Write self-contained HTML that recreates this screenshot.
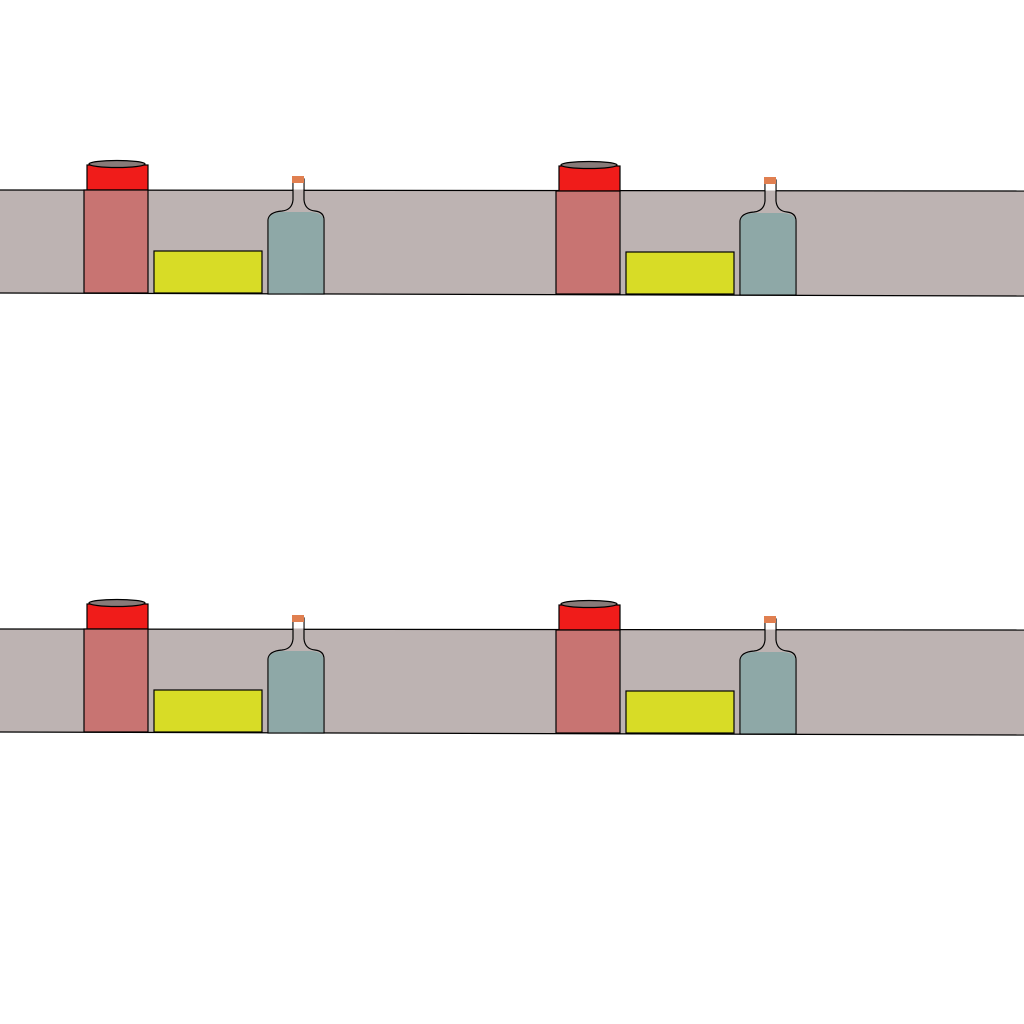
<!DOCTYPE html>
<html><head><meta charset="utf-8"><style>html,body{margin:0;padding:0;background:#fff}svg{display:block}</style></head>
<body>
<svg width="1024" height="1024" viewBox="0 0 1024 1024">
<defs>
<g id="tile">
  <rect x="87" y="165" width="61" height="25" fill="#f01c1a" stroke="#000" stroke-width="1.2"/>
  <polygon points="84,190 148,190 148,293 84,293" fill="#c87472" stroke="#000" stroke-width="1.2"/>
  <ellipse cx="117" cy="164" rx="28" ry="3.5" fill="#877a78" stroke="#000" stroke-width="1.2"/>
  <rect x="154" y="251" width="108" height="42" fill="#d8dc26" stroke="#000" stroke-width="1.2"/>
  <path d="M268,294 L268,220 Q269,212 282,211 Q292,210 293,200 L293,179 L304,179 L304,200 Q305,210 315,211 Q324,212 324,220 L324,294 Z" fill="#bdb3b2" stroke="#000" stroke-width="1.2"/>
  <path d="M268.6,293.4 L268.6,220 Q269,213 282,212 L311,212 Q323.4,213 323.4,220 L323.4,293.4 Z" fill="#8ea8a7"/>
  <rect x="293.5" y="179.5" width="10" height="10" fill="#fff"/>
  <rect x="292" y="176" width="12" height="7" fill="#e07f50"/>
</g>
</defs>
<g>
  <polygon points="0,190 1024,191 1024,296 0,293" fill="#bdb3b2"/>
  <line x1="0" y1="190" x2="1024" y2="191" stroke="#000" stroke-width="1.2"/>
  <line x1="0" y1="293" x2="1024" y2="296" stroke="#000" stroke-width="1.2"/>
</g>
<g>
  <polygon points="0,629 1024,630 1024,735 0,732" fill="#bdb3b2"/>
  <line x1="0" y1="629" x2="1024" y2="630" stroke="#000" stroke-width="1.2"/>
  <line x1="0" y1="732" x2="1024" y2="735" stroke="#000" stroke-width="1.2"/>
</g>
<use href="#tile" x="0" y="0"/>
<use href="#tile" x="472" y="1"/>
<use href="#tile" x="0" y="439"/>
<use href="#tile" x="472" y="440"/>
</svg>
</body></html>
